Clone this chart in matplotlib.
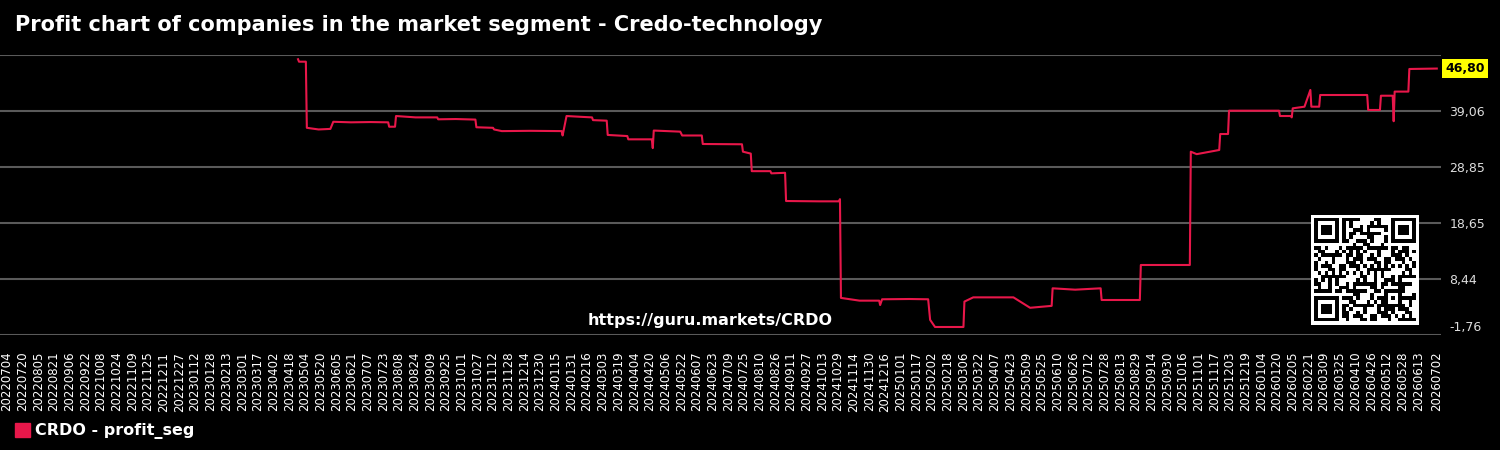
import matplotlib
matplotlib.use("Agg")
import matplotlib.pyplot as plt
import matplotlib.transforms as mtransforms
from matplotlib.patches import Patch
import numpy as np
import datetime as dt

# ---------------- data ----------------
dates = [
    "2023-04-27", "2023-04-28", "2023-05-05", "2023-05-06", "2023-05-18", "2023-05-30",
    "2023-06-02", "2023-06-20", "2023-07-10", "2023-07-28", "2023-07-29", "2023-08-04",
    "2023-08-05", "2023-08-25", "2023-09-16", "2023-09-17", "2023-10-05", "2023-10-25",
    "2023-10-26", "2023-11-12", "2023-11-13", "2023-11-21", "2023-12-20", "2024-01-21",
    "2024-01-22", "2024-01-26", "2024-02-10", "2024-02-21", "2024-02-22", "2024-03-07",
    "2024-03-08", "2024-03-28", "2024-03-29", "2024-04-22", "2024-04-23", "2024-04-24",
    "2024-05-21", "2024-05-23", "2024-06-12", "2024-06-13", "2024-07-23", "2024-07-24",
    "2024-08-01", "2024-08-02", "2024-08-21", "2024-08-22", "2024-09-05", "2024-09-06",
    "2024-10-10", "2024-10-30", "2024-10-31", "2024-11-01", "2024-11-20", "2024-12-10",
    "2024-12-11", "2024-12-13", "2025-01-10", "2025-01-29", "2025-01-31", "2025-02-05",
    "2025-03-06", "2025-03-07", "2025-03-16", "2025-04-05", "2025-04-26", "2025-05-13",
    "2025-06-04", "2025-06-05", "2025-06-28", "2025-07-24", "2025-07-25", "2025-09-02",
    "2025-09-03", "2025-10-01", "2025-10-23", "2025-10-24", "2025-10-30", "2025-11-22",
    "2025-11-23", "2025-12-01", "2025-12-02", "2026-01-22", "2026-01-23", "2026-02-03",
    "2026-02-04", "2026-02-05", "2026-02-17", "2026-02-23", "2026-02-24", "2026-03-04",
    "2026-03-05", "2026-04-22", "2026-04-23", "2026-05-05", "2026-05-06", "2026-05-18",
    "2026-05-19", "2026-05-20", "2026-06-03", "2026-06-04", "2026-07-02",
]
values = [
    48.50, 48.05, 48.05, 36.00, 35.70, 35.80,
    37.10, 37.00, 37.05, 37.00, 36.20, 36.20,
    38.15, 37.90, 37.90, 37.55, 37.60, 37.50,
    36.10, 36.00, 35.70, 35.40, 35.45, 35.40,
    34.60, 38.15, 38.00, 37.90, 37.40, 37.30,
    34.70, 34.50, 33.90, 33.90, 32.30, 35.50,
    35.30, 34.60, 34.60, 33.05, 33.00, 31.65,
    31.30, 28.10, 28.10, 27.70, 27.80, 22.66,
    22.60, 22.60, 23.00, 5.00, 4.50, 4.50,
    3.70, 4.75, 4.80, 4.75, 1.00, -0.30,
    -0.30, 4.33, 5.10, 5.10, 5.10, 3.20,
    3.55, 6.75, 6.50, 6.75, 4.62, 4.62,
    11.00, 11.00, 11.00, 31.65, 31.20, 31.96,
    34.87, 34.87, 39.12, 39.12, 38.15, 38.15,
    37.90, 39.55, 39.85, 42.90, 39.85, 39.85,
    41.98, 41.98, 39.25, 39.25, 41.85, 41.85,
    37.20, 42.60, 42.60, 46.72, 46.80,
]
last_value = 46.80
ytick_values = [-1.76, 8.44, 18.65, 28.85, 39.06, 49.27]
ytick_labels = ["-1,76", "8,44", "18,65", "28,85", "39,06", ""]
tick_start = "2022-07-04"
tick_end = "2026-06-13"
tick_last = "2026-07-02"
tick_step_days = 16
series_name = "CRDO - profit_seg"
title = "Profit chart of companies in the market segment - Credo-technology"
watermark = "https://guru.markets/CRDO"

# ---------------- styling ----------------
BG = "#000000"
LINE = "#e8174a"
GRID = "#5a5a5a"

fig = plt.figure(figsize=(15, 4.5), dpi=100, facecolor=BG)
ax = fig.add_axes([0.0, 1 - 335 / 450, 1441 / 1500, 280 / 450], facecolor=BG)

x = [dt.datetime.strptime(d, "%Y-%m-%d") for d in dates]
ax.plot(x, values, color=LINE, lw=1.5, zorder=3)

# x ticks every 16 days + last
t0 = dt.datetime.strptime(tick_start, "%Y-%m-%d")
t1 = dt.datetime.strptime(tick_end, "%Y-%m-%d")
ticks = []
t = t0
while t <= t1:
    ticks.append(t)
    t += dt.timedelta(days=tick_step_days)
ticks.append(dt.datetime.strptime(tick_last, "%Y-%m-%d"))
ax.set_xticks(ticks)
ax.set_xticklabels([tt.strftime("%Y%m%d") for tt in ticks], rotation=90,
                   color="white", fontsize=8.5)
ax.tick_params(axis="x", length=0, pad=12)
ax.set_xlim(t0 - dt.timedelta(days=7.1), t0 + dt.timedelta(days=1463.3))

# y axis
ax.set_ylim(ytick_values[0], ytick_values[-1])
ax.yaxis.tick_right()
ax.set_yticks(ytick_values)
ax.set_yticklabels(ytick_labels, color="#dddddd", fontsize=9)
ax.tick_params(axis="y", length=0, pad=6)
ax.grid(axis="y", color=GRID, lw=1.5, zorder=1)
ax.grid(axis="x", visible=False)
for s in ax.spines.values():
    s.set_visible(False)
# lift the bottom label slightly, as in the reference
bottom_lbl = ax.get_yticklabels()[0]
bottom_lbl.set_transform(bottom_lbl.get_transform() +
                         mtransforms.ScaledTranslation(0, 9 / 100, fig.dpi_scale_trans))

# last value label
ax.annotate(f"{last_value:.2f}".replace(".", ","), xy=(1.0, last_value),
            xycoords=("axes fraction", "data"), xytext=(3, 0), textcoords="offset points",
            ha="left", va="center", fontsize=9, fontweight="bold", color="black",
            bbox=dict(boxstyle="square,pad=0.25", fc="#ffff00", ec="none"),
            annotation_clip=False)

# title
fig.text(15 / 1500, 1 - 25 / 450, title, color="white", fontsize=15,
         fontweight="bold", ha="left", va="center")

# watermark
fig.text(710 / 1500, 1 - 320 / 450, watermark, color="white", fontsize=11.5,
         fontweight="bold", ha="center", va="center")

# QR-like decoration
n = 29
qr = np.zeros((n, n), dtype=int)
seed_bytes = watermark.encode()
for i in range(n):
    for j in range(n):
        b = seed_bytes[(i * 7 + j * 3) % len(seed_bytes)]
        qr[i, j] = (b >> ((i + 2 * j) % 8)) & 1

def finder(r, c):
    qr[r:r + 7, c:c + 7] = 1
    qr[r + 1:r + 6, c + 1:c + 6] = 0
    qr[r + 2:r + 5, c + 2:c + 5] = 1

for (r, c) in [(0, 0), (0, n - 7), (n - 7, 0)]:
    qr[max(r - 1, 0):r + 8, max(c - 1, 0):c + 8] = 0
    finder(r, c)
qr[n - 9:n - 4, n - 9:n - 4] = 1
qr[n - 8:n - 5, n - 8:n - 5] = 0
qr[n - 7, n - 7] = 1
qr_img = np.pad(qr, 1, constant_values=0)
qax = fig.add_axes([1311 / 1500, 1 - 325 / 450, 108 / 1500, 110 / 450])
qax.imshow(1 - qr_img, cmap="gray", vmin=0, vmax=1, interpolation="nearest", aspect="auto")
qax.axis("off")

# legend
leg = fig.legend(handles=[Patch(color=LINE)], labels=[series_name],
                 loc="center left", bbox_to_anchor=(15 / 1500, 1 - 431 / 450),
                 frameon=False, borderpad=0, borderaxespad=0,
                 handlelength=0.95, handleheight=0.95, handletextpad=0.3,
                 prop=dict(weight="bold", size=11.5))
for txt in leg.get_texts():
    txt.set_color("white")

fig.savefig("out.png", dpi=100, facecolor=BG)
